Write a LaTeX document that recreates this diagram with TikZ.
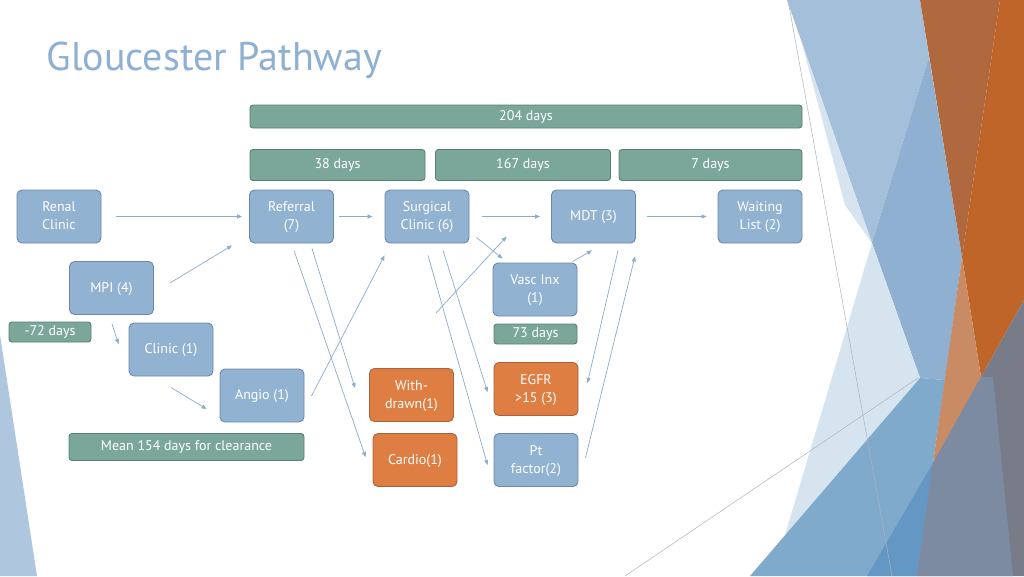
\documentclass[tikz,border=0pt]{standalone}
\usepackage{fontspec}
\setmainfont{PT Sans}
\usetikzlibrary{arrows.meta,calc}
\definecolor{gpblue}{RGB}{146,178,210}
\definecolor{gpblueedge}{RGB}{104,136,172}
\definecolor{gporange}{RGB}{222,126,66}
\definecolor{gporangeedge}{RGB}{168,98,60}
\definecolor{gpgreen}{RGB}{122,167,153}
\definecolor{gpgreenedge}{RGB}{88,128,116}
\definecolor{gparrow}{RGB}{140,172,204}
\definecolor{gptitle}{RGB}{142,176,210}
\definecolor{declight}{RGB}{163,191,218}
\definecolor{decmid}{RGB}{143,176,208}
\definecolor{decpale}{RGB}{214,228,240}
\definecolor{declow}{RGB}{128,170,204}
\definecolor{decdeep}{RGB}{100,151,195}
\definecolor{decbrown}{RGB}{176,105,63}
\definecolor{decorange}{RGB}{192,101,42}
\definecolor{decpeach}{RGB}{201,139,99}
\definecolor{decgray}{RGB}{120,124,137}
\definecolor{decgrayblue}{RGB}{124,139,161}
\definecolor{decleft}{RGB}{175,199,222}
\definecolor{decline}{RGB}{170,180,190}

\begin{document}
\begin{tikzpicture}[x=1pt, y=-1pt,
  box/.style={rounded corners=5pt, draw=gpblueedge, fill=gpblue, line width=0.9pt,
    minimum width=84pt, minimum height=53pt, inner sep=2pt, text depth=1pt,
    align=center, text=white, font=\fontsize{14}{18}\selectfont},
  obox/.style={box, draw=gporangeedge, fill=gporange},
  dbar/.style={rounded corners=3pt, draw=gpgreenedge, fill=gpgreen, line width=0.9pt,
    inner sep=0pt, text=white, font=\fontsize{14}{16}\selectfont},
  arr/.style={-{Triangle[length=5pt,width=4pt]}, line width=0.7pt, gparrow}]
\useasboundingbox (0,0) rectangle (1024,576);
\fill[white] (0,0) rectangle (1024,576);
% Slide decoration
\fill[decleft] (0,335) -- (37,576) -- (0,576) -- cycle;
\fill[declight] (787,0) -- (920,0) -- (929,57) -- (872,243) -- cycle;
\fill[decmid] (929,57) -- (962,257) -- (945,380) -- (920,378) -- (872,243) -- cycle;
\fill[decpale] (872,243) -- (920,378) -- (785,535) -- cycle;
\fill[decpale] (801,40) -- (872,243) -- (845,205) -- cycle;
\fill[declow] (920,378) -- (945,380) -- (933,463) -- (917,576) -- (750,576) -- cycle;
\fill[decdeep] (933,463) -- (917,576) -- (867,576) -- cycle;
\fill[decbrown] (920,0) -- (1000,0) -- (962,257) -- cycle;
\fill[decorange] (1000,0) -- (1024,0) -- (1024,300) -- (981,377) -- (962,257) -- cycle;
\fill[decpeach] (962,257) -- (981,377) -- (933,463) -- cycle;
\fill[decgray] (1024,300) -- (981,377) -- (933,463) -- (917,576) -- (1024,576) -- cycle;
\fill[decgrayblue] (981,377) -- (993,377) -- (1013,576) -- (917,576) -- (933,463) -- cycle;
\draw[decline, line width=0.5pt] (788,0) -- (892,576);
\draw[decline, line width=0.5pt] (625,576) -- (918,378);
% Title
\node[anchor=west, text=gptitle, font=\fontsize{40}{48}\selectfont] (title) at (43,60) {Gloucester Pathway};
% Day bars
\node[dbar, minimum width=552pt, minimum height=23pt] (d204) at (526,116.5) {204 days};
\node[dbar, minimum width=175pt, minimum height=31pt] (d38) at (337.5,165) {38 days};
\node[dbar, minimum width=175pt, minimum height=31pt] (d167) at (523,165) {167 days};
\node[dbar, minimum width=183pt, minimum height=31pt] (d7) at (710.5,165) {7 days};
\node[dbar, minimum width=82pt, minimum height=20pt] (dneg) at (50,332) {-72 days};
\node[dbar, minimum width=83pt, minimum height=20pt] (d73) at (535.5,334) {73 days};
\node[dbar, minimum width=235pt, minimum height=27pt] (dmean) at (186.5,447) {Mean 154 days for clearance};
% Pathway steps
\node[box] (ren) at (59,216.5) {Renal\\Clinic};
\node[box] (ref) at (291.5,216.5) {Referral\\(7)};
\node[box] (surg) at (427,216.5) {Surgical\\Clinic (6)};
\node[box] (mdt) at (593.5,216.5) {MDT (3)};
\node[box] (wait) at (760,216.5) {Waiting\\List (2)};
\node[box] (mpi) at (111.5,288) {MPI (4)};
\node[box] (cli) at (171,349.5) {Clinic (1)};
\node[box] (ang) at (262,395.5) {Angio (1)};
\node[box] (vasc) at (535,289.5) {Vasc Inx\\(1)};
\node[box] (pt) at (536,460) {Pt\\factor(2)};
% Drop-outs
\node[obox] (wd) at (411.5,395) {With-\\drawn(1)};
\node[obox] (card) at (415,460) {Cardio(1)};
\node[obox] (egfr) at (536,389) {EGFR\\>15 (3)};
% Arrows
\draw[arr] ($(ren.east)+(15,0)$) -- ($(ref.west)+(-7,0)$);
\draw[arr] ($(mpi.east)+(16,-5)$) -- ($(ref.south west)+(-17,2)$);
\draw[arr] ($(mpi.south)+(0.5,9)$) -- ($(cli.west)+(-10,-5.5)$);
\draw[arr] ($(cli.south)+(0,11)$) -- ($(ang.west)+(-13,13.5)$);
\draw[arr] ($(ref.east)+(5,0)$) -- ($(surg.west)+(-12,0)$);
\draw[arr] ($(surg.east)+(13,0)$) -- ($(mdt.west)+(-11,0)$);
\draw[arr] ($(mdt.east)+(11,0)$) -- ($(wait.west)+(-11,0)$);
\draw[arr] ($(surg.south east)+(7,-6)$) -- ($(vasc.north west)+(10,-4)$);
\draw[arr] ($(vasc.north east)+(-5,-1)$) -- ($(mdt.south)+(-1.5,7)$);
\coordinate (loose) at (436,313);
\draw[arr] (loose) -- ($(vasc.north west)+(14,-26)$);
\draw[arr] ($(ang.east)+(7,0.5)$) -- ($(surg.south west)+(0,12)$);
\draw[arr] ($(ref.south)+(20.5,5)$) -- ($(wd.west)+(-14,-7)$);
\draw[arr] ($(ref.south)+(2.5,7)$) -- ($(card.west)+(-7,-3)$);
\draw[arr] ($(surg.south)+(16,7)$) -- ($(egfr.west)+(-6,3)$);
\draw[arr] ($(surg.south)+(1,12)$) -- ($(pt.west)+(-6,5)$);
\draw[arr] ($(mdt.south)+(24.5,7)$) -- ($(egfr.east)+(9,-6)$);
\draw[arr] ($(pt.east)+(7,-2)$) -- ($(mdt.south east)+(-1,13)$);
\end{tikzpicture}
\end{document}
